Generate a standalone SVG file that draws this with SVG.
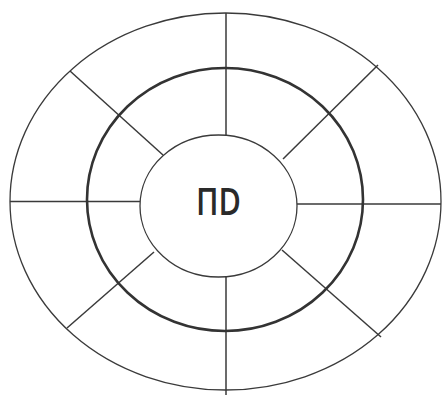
<svg xmlns="http://www.w3.org/2000/svg" width="445" height="395" viewBox="0 0 445 395">
<style>
.ring{fill:none;stroke:#3a3a3a;stroke-width:1.3}
.mid{fill:none;stroke:#333;stroke-width:2.6}
.sp{stroke:#3a3a3a;stroke-width:1.5;fill:none}
.lbl{font-family:"Open Sans","Liberation Sans",Arial,sans-serif;font-size:37px;font-weight:600;fill:#2a2a2a}
</style>
<rect width="445" height="395" fill="#fff"/>
<g id="connectors">
<line class="sp" x1="226" y1="13" x2="226" y2="135"/>
<line class="sp" x1="226" y1="277" x2="226" y2="395"/>
<line class="sp" x1="10" y1="201.5" x2="140" y2="201.5"/>
<line class="sp" x1="297" y1="204" x2="441" y2="204"/>
<line class="sp" x1="70" y1="71" x2="163" y2="155"/>
<line class="sp" x1="378" y1="65" x2="283" y2="159"/>
<line class="sp" x1="154" y1="252" x2="67" y2="328"/>
<line class="sp" x1="282" y1="250" x2="381" y2="337"/>
</g>
<g id="outer"><ellipse class="ring" cx="225.5" cy="201.5" rx="215.5" ry="188.5"/></g>
<g id="middle"><ellipse class="mid" cx="225" cy="199.5" rx="138" ry="131.5"/></g>
<g id="inner">
<ellipse class="ring" cx="218.5" cy="206" rx="78.5" ry="71"/>
<text class="lbl" x="196" y="215" textLength="45" lengthAdjust="spacingAndGlyphs">ПD</text>
</g>
</svg>
